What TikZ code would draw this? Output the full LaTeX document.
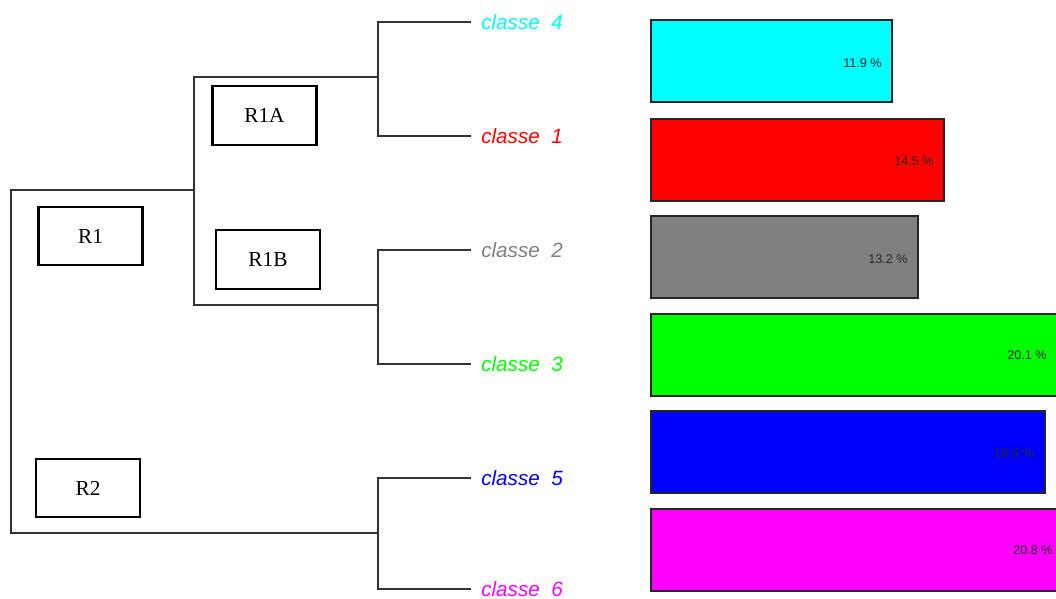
\documentclass[tikz,border=0pt]{standalone}
\usepackage{fontspec}
\setmainfont{Liberation Serif}
\setsansfont{Liberation Sans}
\begin{document}
\begin{tikzpicture}[x=0.75pt,y=-0.75pt,
  den/.style={draw=black!80,line width=1pt},
  rbox/.style={draw=black,line width=1.6pt,minimum width=78pt,minimum height=44pt,inner sep=0pt,font=\fontsize{16}{18}\selectfont},
  cls/.style={anchor=west,inner xsep=7.5pt,inner ysep=0pt,font=\sffamily\itshape\fontsize{15.5}{17}\selectfont},
  bar/.style={draw=black!85,line width=0.8pt},
  pct/.style={anchor=east,inner sep=0pt,text=black!85,font=\sffamily\fontsize{9.5}{11}\selectfont}]
\useasboundingbox (0,0) rectangle (1056,599);
\clip (0,0) rectangle (1056,599);
% class labels
\node[cls,text={rgb,255:red,0;green,255;blue,255}] (c4) at (471,22) {classe\ \ 4};
\node[cls,text=red] (c1) at (471,136) {classe\ \ 1};
\node[cls,text=gray] (c2) at (471,250) {classe\ \ 2};
\node[cls,text={rgb,255:red,0;green,255;blue,0}] (c3) at (471,364) {classe\ \ 3};
\node[cls,text=blue] (c5) at (471,478) {classe\ \ 5};
\node[cls,text={rgb,255:red,255;green,0;blue,255}] (c6) at (471,589) {classe\ \ 6};
% junctions
\coordinate (jA) at (378,77);
\coordinate (jB) at (378,305);
\coordinate (jR2) at (378,533);
\coordinate (jR1) at (194,190);
\coordinate (root) at (11,190);
% dendrogram
\draw[den] (c4.west) -| (jA) |- (c1.west);
\draw[den] (c2.west) -| (jB) |- (c3.west);
\draw[den] (c5.west) -| (jR2) |- (c6.west);
\draw[den] (jA) -| (jR1) |- (jB);
\draw[den] (jR1) -- (root) |- (jR2);
% boxes
\node[rbox] (R1A) at (264.5,115.5) {R1A};
\node[rbox] (R1B) at (268,259.5) {R1B};
\node[rbox] (R1) at (90.5,236) {R1};
\node[rbox] (R2) at (88,488) {R2};
% bars
\filldraw[bar,fill={rgb,255:red,0;green,255;blue,255}] (651,20) rectangle (892,102);
\filldraw[bar,fill=red] (651,119) rectangle (944,201);
\filldraw[bar,fill={rgb,255:red,128;green,128;blue,128}] (651,216) rectangle (918,298);
\filldraw[bar,fill={rgb,255:red,0;green,255;blue,0}] (651,314) rectangle (1057,396);
\filldraw[bar,fill=blue] (651,411) rectangle (1045,493);
\filldraw[bar,fill={rgb,255:red,255;green,0;blue,255}] (651,509) rectangle (1071,591);
\node[pct] (p4) at (882,63) {11.9 \%};
\node[pct] (p1) at (934,161) {14.5 \%};
\node[pct] (p2) at (908,259) {13.2 \%};
\node[pct] (p3) at (1047,355) {20.1 \%};
\node[pct] (p5) at (1034,453) {19.5 \%};
\node[pct] (p6) at (1053,550) {20.8 \%};
\end{tikzpicture}
\end{document}
